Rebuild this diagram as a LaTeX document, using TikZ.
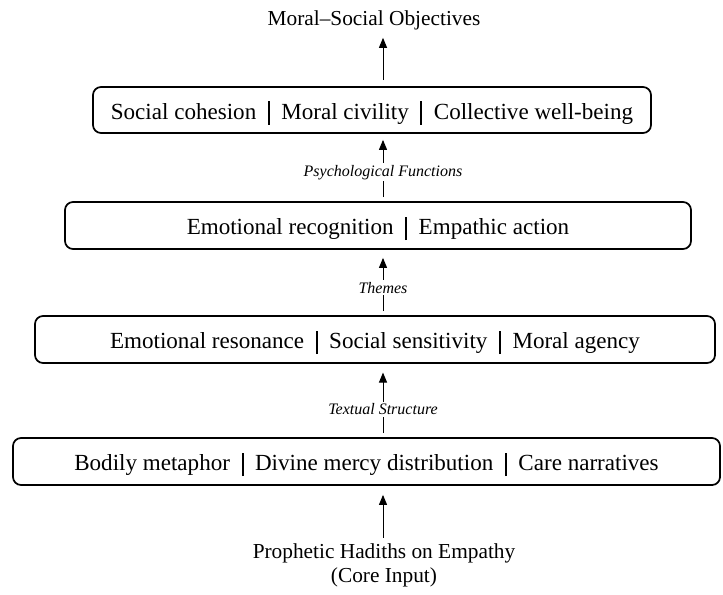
\documentclass[tikz,border=0pt]{standalone}
\usepackage{fontspec}
\setmainfont{Liberation Serif}
\usetikzlibrary{arrows.meta}
\newcommand{\sepbar}{\hspace{0.5em}\rule[-0.22em]{1.5pt}{1.0em}\hspace{0.5em}}
\newcommand{\lowered}[1]{\raisebox{-2.25pt}[\height][\depth]{#1}}
\begin{document}
\begin{tikzpicture}[x=0.75pt,y=-0.75pt,
  layerbox/.style={draw, line width=1.3pt, rounded corners=6pt, inner sep=0pt,
    font=\fontsize{17.3}{20}\selectfont},
  plaintext/.style={inner sep=0pt, font=\fontsize{16}{18}\selectfont, align=center},
  arr/.style={-{Triangle[length=7.5pt,width=6pt]}, line width=0.75pt},
  lab/.style={fill=white, inner sep=1.5pt, font=\itshape\fontsize{12}{14}\selectfont}]
\useasboundingbox (0,0) rectangle (723,594);
\coordinate (ax) at (383,0);
\node[plaintext, anchor=base] (top) at (374,25) {Moral–Social Objectives};
\node[layerbox, minimum width=418.5pt, minimum height=34.5pt] (b1) at (372,110)
  {\lowered{Social cohesion\sepbar Moral civility\sepbar Collective well-being}};
\node[layerbox, minimum width=469.5pt, minimum height=35.25pt] (b2) at (378,225.5)
  {\lowered{Emotional recognition\sepbar Empathic action}};
\node[layerbox, minimum width=510pt, minimum height=35.25pt] (b3) at (375,339.5)
  {\lowered{Emotional resonance\sepbar Social sensitivity\sepbar Moral agency}};
\node[layerbox, minimum width=530.25pt, minimum height=35.25pt] (b4) at (366.5,461.5)
  {\lowered{Bodily metaphor\sepbar Divine mercy distribution\sepbar Care narratives}};
\node[plaintext, anchor=north] (src) at (384,543)
  {Prophetic Hadiths on Empathy\\(Core Input)};
\draw[arr, shorten <=4.5pt, shorten >=6pt] (b1.north -| ax) -- (top.south -| ax);
\draw[arr, shorten <=3pt, shorten >=4.5pt] (b2.north -| ax) -- node[lab, pos=0.43] {Psychological Functions} (b1.south -| ax);
\draw[arr, shorten <=3pt, shorten >=6pt] (b3.north -| ax) -- node[lab, pos=0.42] {Themes} (b2.south -| ax);
\draw[arr, shorten <=3pt, shorten >=6.5pt] (b4.north -| ax) -- node[lab, pos=0.38] {Textual Structure} (b3.south -| ax);
\draw[arr, shorten <=4pt, shorten >=6.75pt] (src.north -| ax) -- (b4.south -| ax);
\end{tikzpicture}
\end{document}
